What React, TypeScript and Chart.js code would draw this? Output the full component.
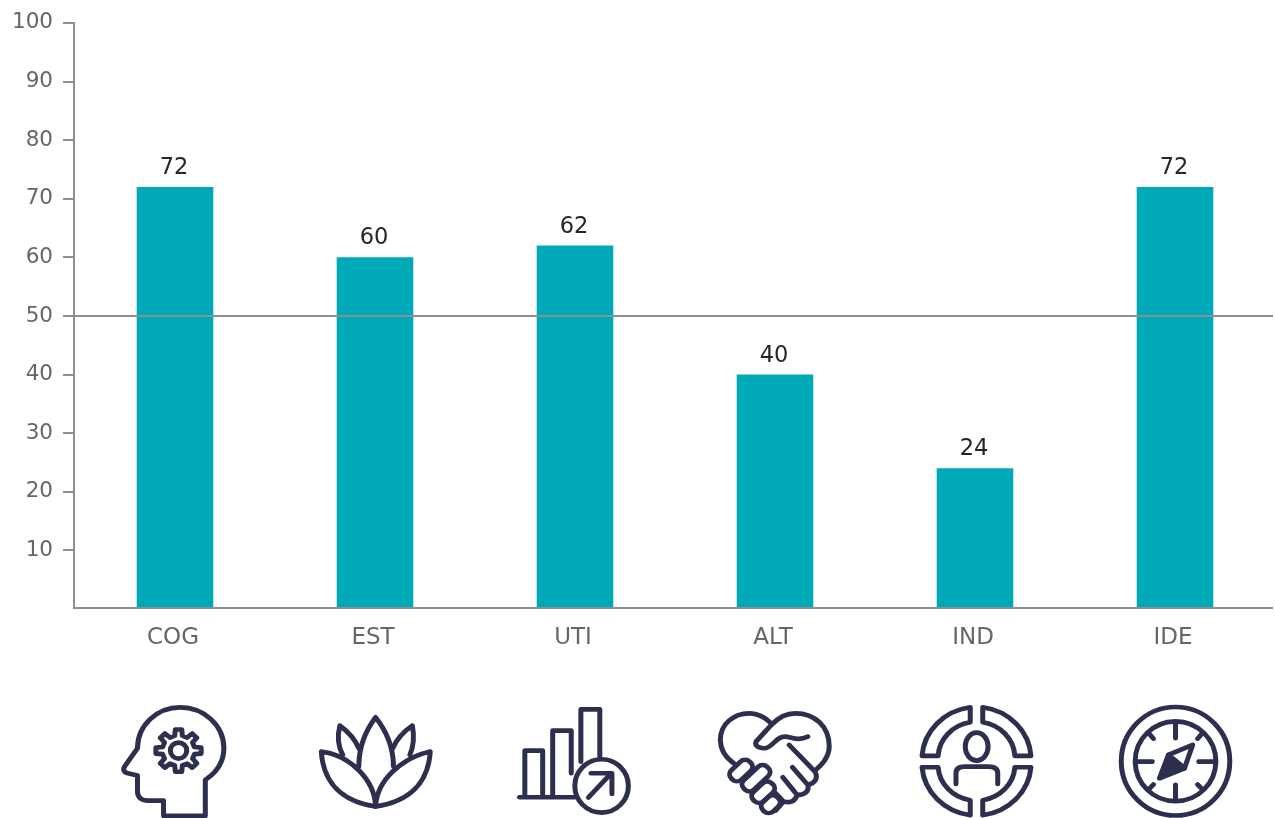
import React, { useEffect, useRef } from "react";
import { Chart, registerables } from "chart.js";

Chart.register(...registerables);

const categories = ["COG", "EST", "UTI", "ALT", "IND", "IDE"];
const scores = [72, 60, 62, 40, 24, 72];
const referenceValue = 50;
const BAR = "#00a9b7";
const INK = "#2d2f4e";
const AXIS = "#8f8f8f";
const FONT = "'DejaVu Sans', sans-serif";

const barLabels = {
  id: "barLabels",
  afterDatasetsDraw(chart: any) {
    const { ctx, chartArea, scales } = chart;
    const y = scales.y.getPixelForValue(referenceValue);
    const axisX = chartArea.left - 1;
    const axisY = chartArea.bottom - 1;
    ctx.save();
    ctx.strokeStyle = AXIS;
    ctx.lineWidth = 2;
    ctx.beginPath();
    ctx.moveTo(axisX, y);
    ctx.lineTo(chartArea.right - 2, y);
    ctx.moveTo(axisX, chartArea.top - 1);
    ctx.lineTo(axisX, axisY + 1);
    ctx.moveTo(axisX - 1, axisY);
    ctx.lineTo(chartArea.right - 2, axisY);
    ctx.stroke();
    ctx.fillStyle = "#262626";
    ctx.font = `22.5px ${FONT}`;
    ctx.textAlign = "center";
    ctx.textBaseline = "alphabetic";
    chart.getDatasetMeta(0).data.forEach((bar: any, i: number) => {
      ctx.fillText(String(scores[i]), bar.x - 1, bar.y - 13);
    });
    ctx.restore();
  },
};

function gearPath(cx: number, cy: number, ro: number, ri: number, teeth: number) {
  const pts: string[] = [];
  const step = (Math.PI * 2) / teeth;
  for (let i = 0; i < teeth; i++) {
    const a = -Math.PI / 2 + i * step;
    const p = (r: number, d: number) =>
      `${(cx + r * Math.cos(a + d)).toFixed(1)} ${(cy + r * Math.sin(a + d)).toFixed(1)}`;
    pts.push(`${i === 0 ? "M" : "L"}${p(ri, -step * 0.3)}`);
    pts.push(`L${p(ro, -step * 0.18)}`);
    pts.push(`L${p(ro, step * 0.18)}`);
    pts.push(`L${p(ri, step * 0.3)}`);
  }
  return pts.join(" ") + " Z";
}

function Icons() {
  const common = {
    fill: "none",
    stroke: INK,
    strokeWidth: 14,
    strokeLinecap: "round" as const,
    strokeLinejoin: "round" as const,
  };
  return (
    <svg
      width={1275}
      height={818}
      viewBox="0 0 1275 818"
      style={{ position: "absolute", left: 0, top: 0, pointerEvents: "none" }}
    >
      <g transform="translate(100 690) scale(0.357 0.333)" {...common}>
        <path d="M295 378 V270 C330 245 347 215 347 175 C347 105 290 52 225 52 C160 52 105 105 105 175 L70 228 C62 240 68 248 78 250 L105 257 V305 C105 322 115 332 132 332 H178 V378 Z" />
        <path d={gearPath(220, 182, 64, 46, 8)} />
        <ellipse cx={220} cy={182} rx={23} ry={24} />

        <path d="M725 230 C725 170 745 120 772 82 C800 120 822 170 822 230" />
        <path d="M772 350 C770 270 700 195 620 185 C625 280 680 335 772 350 Z" />
        <path d="M772 350 C775 270 845 205 925 185 C920 280 865 335 772 350 Z" />
        <path d="M680 195 C665 165 665 135 672 107 C695 125 715 150 725 175" />
        <path d="M868 195 C880 165 880 135 875 107 C850 125 830 150 820 175" />

        <path d="M1190 318 V182 H1240 V318" />
        <path d="M1268 318 V122 H1320 V250" />
        <path d="M1347 215 V58 H1400 V200" />
        <path d="M1175 322 H1330" />
        <ellipse cx={1405} cy={288} rx={75} ry={80} />
        <path d="M1368 323 L1432 250 M1375 250 H1434 V312" />
      </g>
      <g transform="translate(690 690) scale(0.357 0.333)" {...common}>
        <path d="M125 222 C95 200 85 175 85 150 C85 100 125 70 165 70 C190 70 210 80 230 103 C250 80 270 70 295 70 C350 70 390 110 390 170 C390 195 375 220 352 240" />
        <path d="M232 100 L185 155 C180 170 195 175 210 175 C235 170 240 140 265 140 C285 140 300 155 330 140" />
        <path d="M278 165 L350 245 C360 265 350 280 330 285 L287 232 M330 285 C335 305 320 315 300 315 L260 262 M300 315 C295 335 280 340 262 335 L240 310 M262 335 L240 362" />
        <rect x={-36} y={-20} width={72} height={40} rx={18} transform="translate(143 242) rotate(-45)" />
        <rect x={-46} y={-20} width={92} height={40} rx={18} transform="translate(185 265) rotate(-45)" />
        <rect x={-36} y={-20} width={72} height={40} rx={18} transform="translate(205 307) rotate(-45)" />
        <rect x={-28} y={-20} width={56} height={40} rx={18} transform="translate(226 343) rotate(-45)" />

        <path d="M785 52 A158 158 0 0 0 650 198 H695 A108 108 0 0 1 785 97 Z" />
        <path d="M820 52 A158 158 0 0 1 955 198 H910 A108 108 0 0 0 820 97 Z" />
        <path d="M785 376 A158 158 0 0 1 650 232 H695 A108 108 0 0 0 785 331 Z" />
        <path d="M820 376 A158 158 0 0 0 955 232 H910 A108 108 0 0 1 820 331 Z" />
        <ellipse cx={803} cy={170} rx={32} ry={42} />
        <path d="M745 282 V250 C745 235 755 230 770 230 H835 C850 230 862 235 862 250 V282" />

        <ellipse cx={1360} cy={214} rx={152} ry={163} />
        <ellipse cx={1360} cy={214} rx={113} ry={120} />
        <path d="M1360 100 V145 M1360 285 V330 M1250 215 H1295 M1425 215 H1470 M1285 130 L1298 146 M1435 130 L1422 146 M1285 298 L1298 284 M1435 298 L1422 284" />
        <path d="M1340 195 L1408 165 L1385 235 Z" />
        <path d="M1340 195 L1315 265 L1385 235 Z" fill={INK} />
      </g>
    </svg>
  );
}

export default function App() {
  const ref = useRef<HTMLCanvasElement | null>(null);
  useEffect(() => {
    const chart = new Chart(ref.current as HTMLCanvasElement, {
      type: "bar",
      data: {
        labels: categories,
        datasets: [
          {
            data: scores,
            backgroundColor: BAR,
            borderWidth: 0,
            barPercentage: 0.383,
            categoryPercentage: 1,
          },
        ],
      },
      options: {
        responsive: false,
        animation: false,
        layout: { autoPadding: false, padding: { top: 19.5, right: 0, left: 0, bottom: 0 } },
        plugins: { legend: { display: false }, tooltip: { enabled: false } },
        scales: {
          x: {
            afterFit: (s: any) => {
              s.height = 209;
            },
            grid: { display: false, drawTicks: false },
            border: { display: false },
            ticks: {
              color: "#666666",
              font: { family: FONT, size: 23 },
              padding: 15,
              maxRotation: 0,
              labelOffset: -2,
            },
          },
          y: {
            min: 0,
            max: 100,
            afterFit: (s: any) => {
              s.width = 75;
            },
            grid: {
              drawOnChartArea: false,
              drawTicks: true,
              tickLength: 12,
              color: (c: any) => (c.tick && c.tick.value === 0 ? "rgba(0,0,0,0)" : AXIS),
              lineWidth: 2,
            },
            border: { display: false },
            ticks: {
              stepSize: 10,
              color: "#666666",
              font: { family: FONT, size: 21.5 },
              padding: 10,
              callback: (v: any) => (v === 0 ? "" : String(v)),
            },
          },
        },
      },
      plugins: [barLabels],
    });
    return () => chart.destroy();
  }, []);
  return (
    <div style={{ position: "absolute", left: 0, top: 0, width: 1275, height: 818, background: "#fff", overflow: "hidden" }}>
      <canvas ref={ref} width={1275} height={818} style={{ position: "absolute", left: 0, top: 0 }} />
      <Icons />
    </div>
  );
}
